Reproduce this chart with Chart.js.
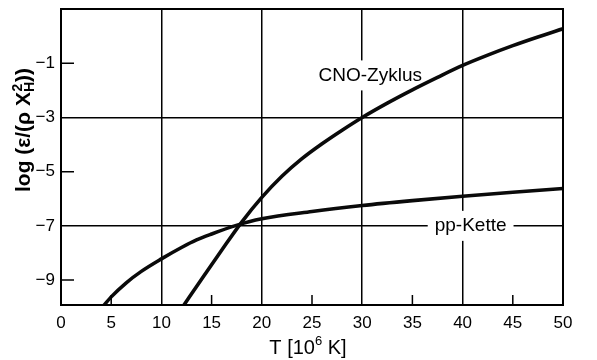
<!DOCTYPE html>
<html>
<head>
<meta charset="utf-8">
<script src="https://cdn.jsdelivr.net/npm/chart.js@4.4.0/dist/chart.umd.min.js"></script>
<style>
  html, body { margin: 0; padding: 0; background: #fff; }
  #wrap { width: 597px; height: 360px; }
</style>
</head>
<body>
<div id="wrap"><canvas id="rateChart" width="597" height="360"></canvas></div>
<script>
// temperature in 10^6 K, log(eps / (rho X_H^2))
const ppTemp = [4.0, 5, 6.5, 8, 10, 12, 13.5, 15, 17.3, 20, 25, 30, 35, 40, 45, 50];
const ppRate = [-10.05, -9.62, -9.1, -8.68, -8.22, -7.8, -7.52, -7.3, -7.0, -6.74, -6.47, -6.25, -6.07, -5.91, -5.76, -5.62];

const cnoTemp = [12.1, 14, 16, 18, 20, 22, 24, 26, 28, 30, 32.5, 35, 37.5, 40, 42.5, 45, 47.5, 50];
const cnoRate = [-10.0, -8.97, -7.9, -6.86, -5.95, -5.17, -4.52, -3.97, -3.47, -3.0, -2.47, -1.98, -1.52, -1.08, -0.7, -0.35, -0.03, 0.27];

const xTicks = [0, 5, 10, 15, 20, 25, 30, 35, 40, 45, 50];
const yTicks = [-9, -7, -5, -3, -1];
const xGrid = [10, 20, 30, 40];
const yGrid = [-7, -3];
const xShortTicks = [5, 15, 25, 35, 45];
const yShortTicks = [-9, -5, -1];

const curveNames = ['CNO-Zyklus', 'pp-Kette'];
const namePos = [[30.8, -1.45], [40.8, -7]];

const FONT = '"Liberation Sans", Arial, Helvetica, sans-serif';

const toPoints = (xs, ys) => xs.map((x, i) => ({ x, y: ys[i] }));

// white-backed curve names sitting on the grid
const curveNamesPlugin = {
  id: 'curveNames',
  beforeDatasetsDraw(chart) {
    const { ctx, scales: { x, y } } = chart;
    ctx.save();
    ctx.font = '19px ' + FONT;
    ctx.textAlign = 'center';
    ctx.textBaseline = 'middle';
    curveNames.forEach((name, i) => {
      const px = x.getPixelForValue(namePos[i][0]);
      const py = y.getPixelForValue(namePos[i][1]);
      const w = ctx.measureText(name).width + 14;
      ctx.fillStyle = '#fff';
      ctx.fillRect(px - w / 2, py - 15, w, 30);
      ctx.fillStyle = '#000';
      ctx.fillText(name, px, py);
    });
    ctx.restore();
  }
};

// frame, short inner ticks and the two axis titles
const framePlugin = {
  id: 'frame',
  afterDraw(chart) {
    const { ctx, chartArea: a, scales: { x, y } } = chart;
    ctx.save();
    ctx.strokeStyle = '#000';
    ctx.lineWidth = 1.5;
    ctx.beginPath();
    xShortTicks.forEach(v => {
      const px = x.getPixelForValue(v);
      ctx.moveTo(px, a.bottom);
      ctx.lineTo(px, a.bottom - 10);
    });
    yShortTicks.forEach(v => {
      const py = y.getPixelForValue(v);
      ctx.moveTo(a.left, py);
      ctx.lineTo(a.left + 13, py);
    });
    ctx.stroke();
    ctx.lineWidth = 2;
    ctx.strokeRect(a.left, a.top, a.right - a.left, a.bottom - a.top);

    ctx.fillStyle = '#000';
    ctx.textBaseline = 'alphabetic';
    ctx.textAlign = 'left';

    // x title: T [10^6 K]
    const main = '20px ' + FONT, sup = '13px ' + FONT;
    ctx.font = main;
    const p1 = 'T [10', p3 = ' K]';
    const w1 = ctx.measureText(p1).width, w3 = ctx.measureText(p3).width;
    ctx.font = sup;
    const w2 = ctx.measureText('6').width;
    let sx = (a.left + a.right) / 2 - 4 - (w1 + w2 + w3) / 2;
    const by = 354;
    ctx.font = main; ctx.fillText(p1, sx, by);
    ctx.font = sup; ctx.fillText('6', sx + w1, by - 9);
    ctx.font = main; ctx.fillText(p3, sx + w1 + w2, by);

    // y title: log(eps/(rho X_H^2)), rotated
    ctx.translate(29.5, 130);
    ctx.rotate(-Math.PI / 2);
    const bmain = 'bold 21px ' + FONT, bsmall = 'bold 14px ' + FONT;
    ctx.font = bmain;
    const q1 = 'log (\u03b5/(\u03c1 X', q3 = '))';
    const v1 = ctx.measureText(q1).width, v3 = ctx.measureText(q3).width;
    ctx.font = bsmall;
    const v2 = Math.max(ctx.measureText('2').width, ctx.measureText('H').width);
    let tx = -(v1 + v2 + v3) / 2;
    ctx.font = bmain; ctx.fillText(q1, tx, 0);
    ctx.font = bsmall;
    ctx.fillText('2', tx + v1 + 0.5, -8);
    ctx.fillText('H', tx + v1, 4);
    ctx.font = bmain; ctx.fillText(q3, tx + v1 + v2, 0);
    ctx.restore();
  }
};

const ctx = document.getElementById('rateChart').getContext('2d');
new Chart(ctx, {
  type: 'line',
  data: {
    datasets: [
      { label: 'pp-Kette', data: toPoints(ppTemp, ppRate) },
      { label: 'CNO-Zyklus', data: toPoints(cnoTemp, cnoRate) }
    ].map(ds => Object.assign(ds, {
      borderColor: '#0a0a0a',
      borderWidth: 3.6,
      pointRadius: 0,
      fill: false,
      cubicInterpolationMode: 'monotone',
      clip: 0
    }))
  },
  options: {
    responsive: false,
    animation: false,
    devicePixelRatio: 1,
    layout: { padding: { left: 0, top: 9, right: 34, bottom: 0 } },
    plugins: { legend: { display: false }, tooltip: { enabled: false } },
    scales: {
      x: {
        type: 'linear',
        min: 0,
        max: 50,
        afterFit: s => { s.height = 55; s.paddingLeft = 0; s.paddingRight = 0; },
        afterBuildTicks: s => { s.ticks = xTicks.map(v => ({ value: v })); },
        ticks: { color: '#000', font: { family: FONT, size: 17 }, padding: 8, maxRotation: 0, autoSkip: false },
        grid: {
          color: c => xGrid.includes(c.tick.value) ? '#000' : 'rgba(0,0,0,0)',
          lineWidth: 1.5,
          drawTicks: false
        },
        border: { display: false }
      },
      y: {
        min: -9.92,
        max: 1,
        afterFit: s => { s.width = 61; s.paddingTop = 0; s.paddingBottom = 0; },
        afterBuildTicks: s => { s.ticks = yTicks.map(v => ({ value: v })); },
        ticks: {
          color: '#000',
          font: { family: FONT, size: 17 },
          padding: 6,
          autoSkip: false,
          callback: v => (v < 0 ? '\u2212' : '') + Math.abs(v)
        },
        grid: {
          color: c => yGrid.includes(c.tick.value) ? '#000' : 'rgba(0,0,0,0)',
          lineWidth: 1.5,
          drawTicks: false
        },
        border: { display: false }
      }
    }
  },
  plugins: [curveNamesPlugin, framePlugin]
});
</script>
</body>
</html>
